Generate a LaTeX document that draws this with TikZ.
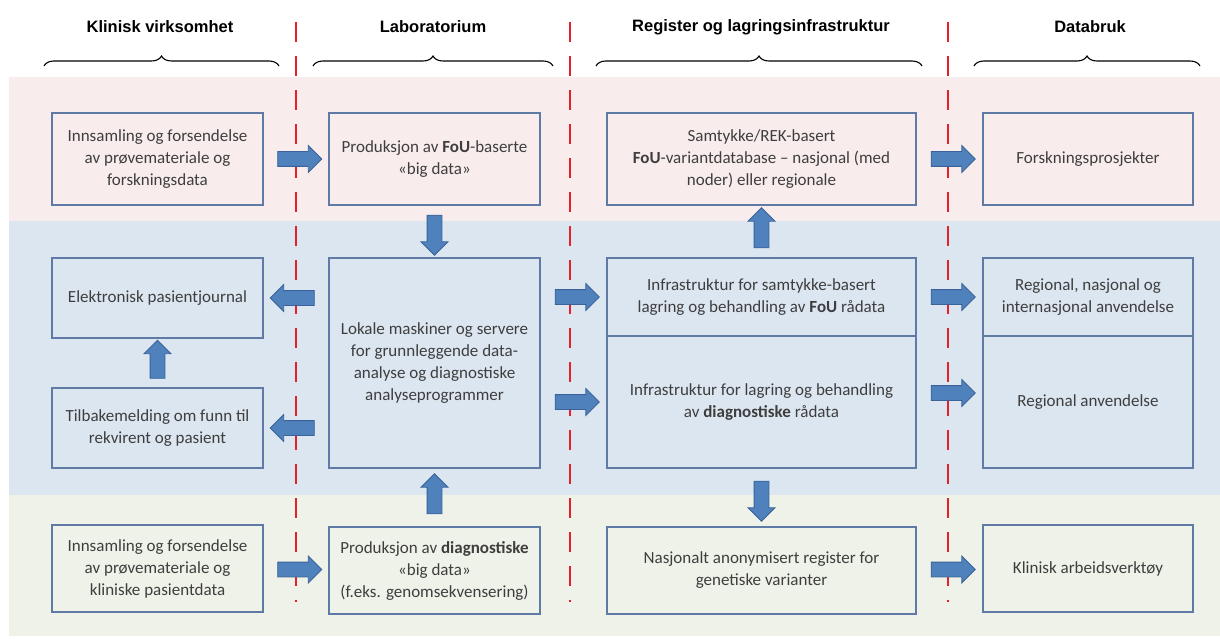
\documentclass[tikz,border=0pt]{standalone}
\usepackage{fontspec}
\setmainfont{Carlito}
\newfontfamily\headfont{Liberation Sans}
\usetikzlibrary{calc,shapes.arrows,decorations.pathreplacing}

\definecolor{bandpink}{RGB}{249,236,236}
\definecolor{bandblue}{RGB}{220,230,241}
\definecolor{bandgreen}{RGB}{239,242,232}
\definecolor{boxline}{RGB}{96,122,166}
\definecolor{boxtext}{RGB}{62,62,62}
\definecolor{arrowfill}{RGB}{79,129,189}
\definecolor{arrowline}{RGB}{58,98,152}
\definecolor{sepred}{RGB}{230,32,40}

\begin{document}
\begin{tikzpicture}[x=1pt,y=-1pt,
    box/.style={draw=boxline, line width=1.3, inner sep=0, align=center, text=boxtext,
        font=\fontsize{17}{22}\selectfont},
    barrow/.style={single arrow, draw=arrowline, fill=arrowfill, line width=0.8,
        inner xsep=0, inner ysep=7, single arrow head extend=6, minimum height=44},
    header/.style={font=\headfont\bfseries\fontsize{16.5}{20}\selectfont},
    sepline/.style={draw=sepred, line width=2.6, dash pattern=on 20 off 14},
    hbrace/.style={decorate, decoration={brace, amplitude=10}, line width=1.1}]

    \useasboundingbox (0,0) rectangle (1220,639);

    %Bands
    \fill[bandpink] (9,77) rectangle (1220,221);
    \fill[bandblue] (9,221) rectangle (1220,495);
    \fill[bandgreen] (9,495) rectangle (1220,636);

    %Headings
    \node[header] (hklin) at (160,27) {Klinisk virksomhet};
    \node[header] (hlab) at (433,27) {Laboratorium};
    \node[header] (hreg) at (761,27) {Register og lagringsinfrastruktur};
    \node[header] (hdata) at (1090,27) {Databruk};

    \draw[hbrace] (44,66) -- (279,66);
    \draw[hbrace] (313,66) -- (553,66);
    \draw[hbrace] (596,66) -- (922,66);
    \draw[hbrace] (974,66) -- (1200,66);

    %Dashed separators
    \draw[sepline] (296,22) -- (296,602);
    \draw[sepline] (570,22) -- (570,602);
    \draw[sepline] (948,22) -- (948,602);

    %First row
    \node[box, minimum width=211, minimum height=92] (a1) at (157.5,159)
        {Innsamling og forsendelse\\av prøvemateriale og\\forskningsdata};
    \node[box, minimum width=211, minimum height=92] (b1) at (434.5,159)
        {Produksjon av \textbf{FoU}-baserte\\«big data»};
    \node[box, minimum width=309, minimum height=92] (c1) at (761.5,159)
        {Samtykke/REK-basert\\\textbf{FoU}-variantdatabase – nasjonal (med\\noder) eller regionale};
    \node[box, minimum width=210, minimum height=92] (d1) at (1088,159)
        {Forskningsprosjekter};

    %Second row
    \node[box, minimum width=211, minimum height=80] (a2) at (157.5,298)
        {Elektronisk pasientjournal};
    \node[box, minimum width=211, minimum height=80] (a3) at (157.5,428)
        {Tilbakemelding om funn til\\rekvirent og pasient};
    \node[box, minimum width=211, minimum height=210] (b2) at (434.5,363)
        {Lokale maskiner og servere\\for grunnleggende data-\\analyse og diagnostiske\\analyseprogrammer};
    \node[box, minimum width=309, minimum height=78] (c2) at (761.5,297)
        {Infrastruktur for samtykke-basert\\lagring og behandling av \textbf{FoU} rådata};
    \node[box, minimum width=309, minimum height=132] (c3) at (761.5,402)
        {Infrastruktur for lagring og behandling\\av \textbf{diagnostiske} rådata};
    \node[box, minimum width=210, minimum height=78] (d2) at (1088,297)
        {Regional, nasjonal og\\internasjonal anvendelse};
    \node[box, minimum width=210, minimum height=132] (d3) at (1088,402)
        {Regional anvendelse};

    %Third row
    \node[box, minimum width=211, minimum height=87] (a4) at (157.5,568.5)
        {Innsamling og forsendelse\\av prøvemateriale og\\kliniske pasientdata};
    \node[box, minimum width=211, minimum height=87] (b3) at (434.5,570.5)
        {Produksjon av \textbf{diagnostiske}\\«big data»\\(f.eks. genomsekvensering)};
    \node[box, minimum width=309, minimum height=87] (c4) at (761.5,570.5)
        {Nasjonalt anonymisert register for\\genetiske varianter};
    \node[box, minimum width=210, minimum height=87] (d4) at (1088,568.5)
        {Klinisk arbeidsverktøy};

    %Arrows
    \node[barrow] (a1b1) at ($(a1.east)!.5!(b1.west)$) {};
    \node[barrow, minimum height=40, rotate=-90] (b1b2) at ($(b1.south)!.5!(b2.north)$) {};
    \node[barrow, minimum height=40, rotate=90] (c2c1) at ($(c2.north)!.5!(c1.south)$) {};
    \node[barrow] (c1d1) at ($(c1.east)!.5!(d1.west)$) {};

    \node[barrow, rotate=180] (b2a2) at ($(a2.east)!.5!(a2.east -| b2.west)$) {};
    \node[barrow, rotate=180] (b2a3) at ($(a3.east)!.5!(a3.east -| b2.west)$) {};
    \node[barrow, minimum height=38, rotate=90] (a3a2) at ($(a3.north)!.5!(a2.south)$) {};
    \node[barrow] (b2c2) at ($(c2.west -| b2.east)!.5!(c2.west)$) {};
    \node[barrow] (b2c3) at ($(c3.west -| b2.east)!.5!(c3.west)$) {};
    \node[barrow] (c2d2) at ($(c2.east)!.5!(d2.west)$) {};
    \node[barrow, yshift=9] (c3d3) at ($(c3.east)!.5!(d3.west)$) {};

    \node[barrow, minimum height=40, rotate=90] (b3b2) at ($(b3.north)!.5!(b2.south)$) {};
    \node[barrow, minimum height=40, rotate=-90] (c3c4) at ($(c3.south)!.5!(c4.north)$) {};
    \node[barrow] (a4b3) at ($(a4.east)!.5!(b3.west)$) {};
    \node[barrow] (c4d4) at ($(c4.east)!.5!(d4.west)$) {};

\end{tikzpicture}
\end{document}
